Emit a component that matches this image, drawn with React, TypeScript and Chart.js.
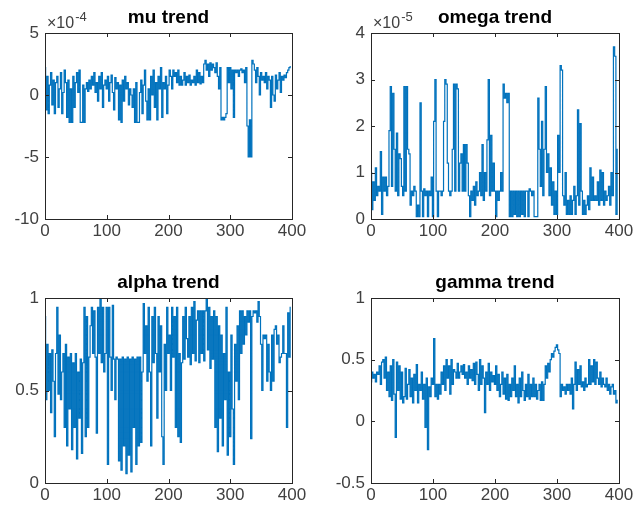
import React, { useEffect, useRef } from "react";
import { Chart, registerables } from "chart.js";

Chart.register(...registerables);

// x positions (sample index)
const xSamples: number[] = Array.from({ length: 200 }, (_, i) => i * 2);

// mu trend, in units of 1e-4
const muTrend: number[] = [
  2.2, -1.2, 1.5, -1.5, 0.8, 1.8, -0.8, 1.2, -1.5, 1.0,
  1.5, -1.0, 0.5, 1.8, -1.5, 0.2, 2.0, 1.0, -1.8, 1.2,
  -2.2, 0.5, -2.2, 1.5, -1.0, 1.0, 1.8, 0.2, 2.0, -2.2,
  -2.2, 0.8, -2.2, 0.5, 1.0, 0.3, 1.2, 0.5, 1.5, 0.8,
  1.8, 0.2, 1.0, -0.5, 1.5, 0.5, 1.8, -1.0, 0.8, 1.2,
  0.5, 1.5, -0.5, 1.0, 1.6, 0.2, -1.2, 1.4, 0.5, 1.0,
  -2.0, 0.8, -2.2, 1.2, -0.5, 1.5, 0.5, 1.0, -0.8, 0.5,
  0.0, -1.0, 0.5, -2.2, 1.0, -2.2, -2.2, 0.2, 1.2, -1.5,
  0.8, 2.0, -0.5, -2.0, 0.5, -2.0, 1.5, 0.0, 2.0, -1.0,
  1.0, -2.0, 1.5, 0.5, 2.2, -1.8, 1.0, 0.5, 1.5, -1.5,
  0.8, 2.0, 1.5, 0.5, 2.0, 1.5, 1.8, 1.0, 2.0, 0.8,
  1.5, 0.8, 1.2, 1.8, 0.8, 1.5, 1.0, 1.6, 0.8, 1.2,
  1.0, 1.5, 0.8, 2.0, 1.0, 1.8, 0.9, 1.5, 1.0, 2.5,
  2.8, 2.0, 2.5, 1.5, 2.6, 2.0, 2.5, 2.2, 1.8, 2.6,
  1.5, 0.5, 2.2, -2.0, -1.8, -2.0, -1.8, -1.5, 2.2, 1.0,
  2.2, 0.5, 2.0, -1.8, 2.0, 1.8, 2.0, 1.5, 2.0, 2.1,
  1.8, 2.0, 1.0, 2.2, -2.5, -5.0, -2.0, -5.0, 2.8, 2.5,
  2.0, 1.0, 2.2, 1.5, 0.0, 1.8, 1.2, 1.5, 1.0, 1.8,
  0.5, 1.5, 1.2, -1.0, 1.5, 0.0, -0.5, 1.6, 0.5, 1.2,
  1.8, 0.2, 1.5, 1.2, 1.6, 1.4, 1.8, 2.0, 2.2, 2.3,
];

// omega trend, in units of 1e-5
const omegaTrend: number[] = [
  1.0, 0.2, 0.8, 0.4, 1.1, 0.5, 0.7, 0.6, 1.45, 0.1,
  0.9, 0.6, 0.9, 0.5, 0.7, 1.9, 2.85, 0.7, 2.7, 1.5,
  0.6, 1.85, 0.5, 1.4, 1.3, 0.7, 0.5, 2.85, 0.6, 2.85,
  1.5, 1.4, 0.3, 0.6, 0.5, 0.7, 0.6, 0.05, 0.3, 0.05,
  2.5, 0.6, 0.05, 0.65, 0.5, 0.6, 0.05, 0.6, 0.5, 0.9,
  0.05, 2.1, 3.0, 0.6, 0.05, 0.6, 0.6, 0.5, 0.6, 2.1,
  3.0, 2.9, 1.2, 0.6, 0.5, 0.6, 1.5, 2.9, 0.6, 2.9,
  2.8, 0.6, 1.2, 1.4, 0.6, 1.6, 0.6, 1.6, 1.2, 0.5,
  0.05, 0.6, 0.4, 0.7, 0.3, 0.8, 0.5, 0.6, 1.0, 0.5,
  1.6, 0.4, 1.0, 0.6, 1.7, 3.0, 0.5, 1.8, 0.6, 1.2,
  0.6, 0.05, 0.6, 0.4, 0.6, 1.0, 0.6, 2.9, 2.6, 2.7,
  2.5, 2.7, 0.05, 0.6, 0.05, 0.6, 0.1, 0.6, 0.05, 0.6,
  0.05, 0.6, 0.1, 0.6, 0.05, 0.6, 0.6, 0.05, 0.65, 0.6,
  0.5, 0.6, 0.05, 0.05, 0.05, 2.6, 1.5, 0.7, 2.1, 0.5,
  1.5, 2.85, 1.0, 1.4, 0.5, 1.1, 0.3, 0.8, 0.1, 0.6,
  0.1, 1.8, 1.0, 3.3, 3.2, 0.5, 0.3, 1.0, 0.1, 0.4,
  0.1, 0.5, 0.1, 0.4, 0.7, 0.1, 0.5, 2.35, 0.3, 2.05,
  0.6, 0.1, 0.4, 0.1, 0.3, 0.5, 0.2, 1.1, 0.4, 0.9,
  0.4, 0.5, 0.4, 0.8, 0.3, 1.05, 0.4, 1.0, 0.3, 0.6,
  0.4, 0.5, 0.7, 0.3, 1.0, 0.5, 3.7, 3.5, 0.1, 1.5,
];

const alphaTrend: number[] = [
  0.9, 0.45, 0.75, 0.5, 0.7, 0.38, 0.72, 0.55, 0.25, 0.7,
  0.95, 0.48, 0.8, 0.45, 0.6, 0.7, 0.3, 0.75, 0.2, 0.68,
  0.4, 0.7, 0.18, 0.65, 0.3, 0.7, 0.13, 0.6, 0.35, 0.67,
  0.16, 0.65, 0.95, 0.25, 0.9, 0.3, 0.68, 0.85, 0.95, 0.7,
  0.93, 0.68, 0.27, 0.95, 0.7, 1.0, 0.65, 0.95, 0.6, 0.7,
  0.95, 0.1, 0.95, 0.68, 0.5, 0.96, 0.67, 0.45, 0.68, 0.67,
  0.12, 0.67, 0.07, 0.68, 0.2, 0.67, 0.05, 0.68, 0.15, 0.67,
  0.06, 0.68, 0.3, 0.67, 0.1, 0.68, 0.2, 0.68, 0.22, 0.6,
  0.97, 0.7, 0.85, 0.55, 0.95, 0.6, 0.2, 0.9, 0.65, 0.95,
  0.7, 0.35, 0.9, 0.6, 0.85, 0.25, 0.1, 0.75, 0.5, 0.95,
  0.7, 0.8, 0.5, 0.95, 0.68, 0.9, 0.3, 0.95, 0.25, 0.7,
  0.22, 0.65, 0.9, 0.67, 0.95, 0.78, 0.68, 0.9, 0.64, 0.95,
  0.7, 0.98, 0.66, 0.88, 0.93, 0.65, 0.93, 0.7, 0.93, 0.66,
  0.93, 1.0, 0.72, 0.95, 0.62, 0.9, 0.67, 0.93, 0.3, 0.9,
  0.17, 0.85, 0.35, 0.8, 0.2, 0.7, 0.45, 0.95, 0.15, 0.6,
  0.25, 0.8, 0.4, 0.1, 0.75, 0.55, 0.85, 0.45, 0.93, 0.7,
  0.93, 0.75, 0.9, 0.8, 0.93, 0.87, 0.93, 0.24, 0.9, 0.93,
  0.92, 0.93, 0.87, 0.98, 0.9, 0.75, 0.5, 0.8, 0.78, 0.8,
  0.55, 0.75, 0.6, 0.5, 0.8, 0.55, 0.83, 0.85, 0.75, 0.8,
  0.65, 0.68, 0.7, 0.85, 0.7, 0.7, 0.3, 0.92, 0.68, 0.95,
];

const gammaTrend: number[] = [
  0.32, 0.4, 0.35, 0.38, 0.32, 0.4, 0.38, 0.45, 0.3, 0.48,
  0.5, 0.35, 0.52, 0.25, 0.4, 0.2, 0.45, 0.17, 0.5, 0.22,
  -0.13, 0.48, 0.25, 0.45, 0.18, 0.4, 0.15, 0.2, 0.43, 0.18,
  0.3, 0.42, 0.2, 0.35, 0.15, 0.38, 0.25, 0.46, 0.15, 0.3,
  0.25, 0.4, 0.18, 0.3, -0.05, 0.35, -0.23, 0.28, 0.2, 0.35,
  0.3, 0.67, 0.2, 0.3, 0.18, 0.3, 0.22, 0.4, 0.3, 0.45,
  0.25, 0.5, 0.35, 0.45, 0.22, 0.5, 0.3, 0.42, 0.4, 0.35,
  0.47, 0.35, 0.4, 0.45, 0.38, 0.46, 0.35, 0.4, 0.3, 0.45,
  0.35, 0.42, 0.33, 0.47, 0.3, 0.48, 0.38, 0.25, 0.5, 0.3,
  0.45, 0.35, 0.07, 0.4, 0.3, 0.47, 0.25, 0.4, 0.32, 0.37,
  0.3, 0.45, 0.25, 0.38, 0.2, 0.3, 0.4, 0.22, 0.35, 0.18,
  0.38, 0.17, 0.3, 0.2, 0.35, 0.25, 0.45, 0.2, 0.3, 0.15,
  0.35, 0.2, 0.4, 0.25, 0.17, 0.3, 0.2, 0.38, 0.18, 0.3,
  0.2, 0.35, 0.2, 0.3, 0.18, 0.25, 0.3, 0.17, 0.32, 0.17,
  0.3, 0.45, 0.35, 0.47, 0.4, 0.5, 0.55, 0.52, 0.57, 0.6,
  0.62, 0.58, 0.55, 0.2, 0.3, 0.25, 0.28, 0.22, 0.3, 0.25,
  0.3, 0.22, 0.35, 0.1, 0.3, 0.48, 0.25, 0.42, 0.3, 0.45,
  0.28, 0.32, 0.25, 0.35, 0.28, 0.3, 0.5, 0.3, 0.45, 0.32,
  0.5, 0.3, 0.48, 0.35, 0.3, 0.4, 0.28, 0.35, 0.3, 0.28,
  0.35, 0.25, 0.3, 0.22, 0.28, 0.3, 0.22, 0.25, 0.15, 0.17,
];

const xTicks: number[] = [0, 100, 200, 300, 400];

const FONT = '"Liberation Sans", Arial, Helvetica, sans-serif';
const AXIS_COLOR = "#262626";
const LABEL_COLOR = "#404040";
const LINE_COLOR = "#0072BD";

interface PanelSpec {
  title: string;
  values: number[];
  yMin: number;
  yMax: number;
  yStep: number;
  exponent: string | null;
  left: number;
  top: number;
  yAxisWidth: number;
  padTop: number;
  padRight: number;
  xAxisHeight: number;
}

const W = 318;
const H = 256;

const panels: PanelSpec[] = [
  { title: "mu trend", values: muTrend, yMin: -10, yMax: 5, yStep: 5, exponent: "-4",
    left: 0, top: 0, yAxisWidth: 45, padTop: 33, padRight: 26, xAxisHeight: 37 },
  { title: "omega trend", values: omegaTrend, yMin: 0, yMax: 4, yStep: 1, exponent: "-5",
    left: 318, top: 0, yAxisWidth: 53, padTop: 33, padRight: 17, xAxisHeight: 37 },
  { title: "alpha trend", values: alphaTrend, yMin: 0, yMax: 1, yStep: 0.5, exponent: null,
    left: 0, top: 256, yAxisWidth: 45, padTop: 42, padRight: 26, xAxisHeight: 29 },
  { title: "gamma trend", values: gammaTrend, yMin: -0.5, yMax: 1, yStep: 0.5, exponent: null,
    left: 318, top: 256, yAxisWidth: 53, padTop: 42, padRight: 17, xAxisHeight: 29 },
];

function Panel({ spec }: { spec: PanelSpec }) {
  const ref = useRef<HTMLCanvasElement | null>(null);
  useEffect(() => {
    if (!ref.current) return;
    const decor = {
      id: "matlabDecor",
      afterDraw(chart: any) {
        const { ctx, chartArea } = chart;
        const { left, right, top, bottom } = chartArea;
        ctx.save();
        ctx.strokeStyle = AXIS_COLOR;
        ctx.lineWidth = 1;
        const tl = 4;
        const xs = chart.scales.x;
        const ys = chart.scales.y;
        ctx.beginPath();
        xs.ticks.forEach((t: any) => {
          const px = Math.round(xs.getPixelForValue(t.value)) + 0.5;
          ctx.moveTo(px, bottom);
          ctx.lineTo(px, bottom - tl);
          ctx.moveTo(px, top);
          ctx.lineTo(px, top + tl);
        });
        ys.ticks.forEach((t: any) => {
          const py = Math.round(ys.getPixelForValue(t.value)) + 0.5;
          ctx.moveTo(left, py);
          ctx.lineTo(left + tl, py);
          ctx.moveTo(right, py);
          ctx.lineTo(right - tl, py);
        });
        ctx.stroke();
        ctx.strokeRect(Math.round(left) + 0.5, Math.round(top) + 0.5,
          Math.round(right - left), Math.round(bottom - top));
        // title
        ctx.fillStyle = "#000000";
        ctx.font = `bold 19px ${FONT}`;
        ctx.textAlign = "center";
        ctx.textBaseline = "alphabetic";
        ctx.fillText(spec.title, (left + right) / 2, top - 10);
        // exponent
        if (spec.exponent) {
          ctx.fillStyle = LABEL_COLOR;
          ctx.textAlign = "left";
          ctx.font = `16px ${FONT}`;
          const base = "\u00d710";
          ctx.fillText(base, left + 2, top - 5);
          const w = ctx.measureText(base).width;
          ctx.font = `13px ${FONT}`;
          ctx.fillText(spec.exponent, left + 2 + w + 1, top - 12);
        }
        ctx.restore();
      },
    };
    const chart = new Chart(ref.current, {
      type: "line",
      data: {
        datasets: [
          {
            data: xSamples.map((x, i) => ({ x, y: spec.values[i] })),
            borderColor: LINE_COLOR,
            borderWidth: 1.2,
            pointRadius: 0,
            stepped: "middle",
            fill: false,
          },
        ],
      },
      options: {
        responsive: false,
        animation: false,
        layout: { padding: { left: 0, top: spec.padTop, right: spec.padRight, bottom: 0 } },
        plugins: { legend: { display: false }, tooltip: { enabled: false }, title: { display: false } },
        scales: {
          x: {
            type: "linear",
            min: 0,
            max: 400,
            afterBuildTicks: (scale: any) => {
              scale.ticks = xTicks.map((v) => ({ value: v }));
            },
            afterFit: (scale: any) => {
              scale.height = spec.xAxisHeight;
            },
            grid: { display: false, drawTicks: false },
            border: { display: false },
            ticks: {
              autoSkip: false,
              maxRotation: 0,
              padding: 2,
              color: LABEL_COLOR,
              font: { family: FONT, size: 17 },
              callback: (v: any) => String(v),
            },
          },
          y: {
            type: "linear",
            min: spec.yMin,
            max: spec.yMax,
            afterFit: (scale: any) => {
              scale.width = spec.yAxisWidth;
            },
            grid: { display: false, drawTicks: false },
            border: { display: false },
            ticks: {
              stepSize: spec.yStep,
              autoSkip: false,
              padding: 6,
              color: LABEL_COLOR,
              font: { family: FONT, size: 17 },
              callback: (v: any) => String(Math.round(Number(v) * 100) / 100),
            },
          },
        },
      },
      plugins: [decor],
    } as any);
    return () => chart.destroy();
  }, [spec]);
  return (
    <canvas
      ref={ref}
      width={W}
      height={H}
      style={{ position: "absolute", left: spec.left, top: spec.top, width: W, height: H }}
    />
  );
}

export default function App() {
  return (
    <div style={{ position: "absolute", left: 0, top: 0, width: 636, height: 512, background: "#ffffff" }}>
      {panels.map((p) => (
        <Panel key={p.title} spec={p} />
      ))}
    </div>
  );
}
